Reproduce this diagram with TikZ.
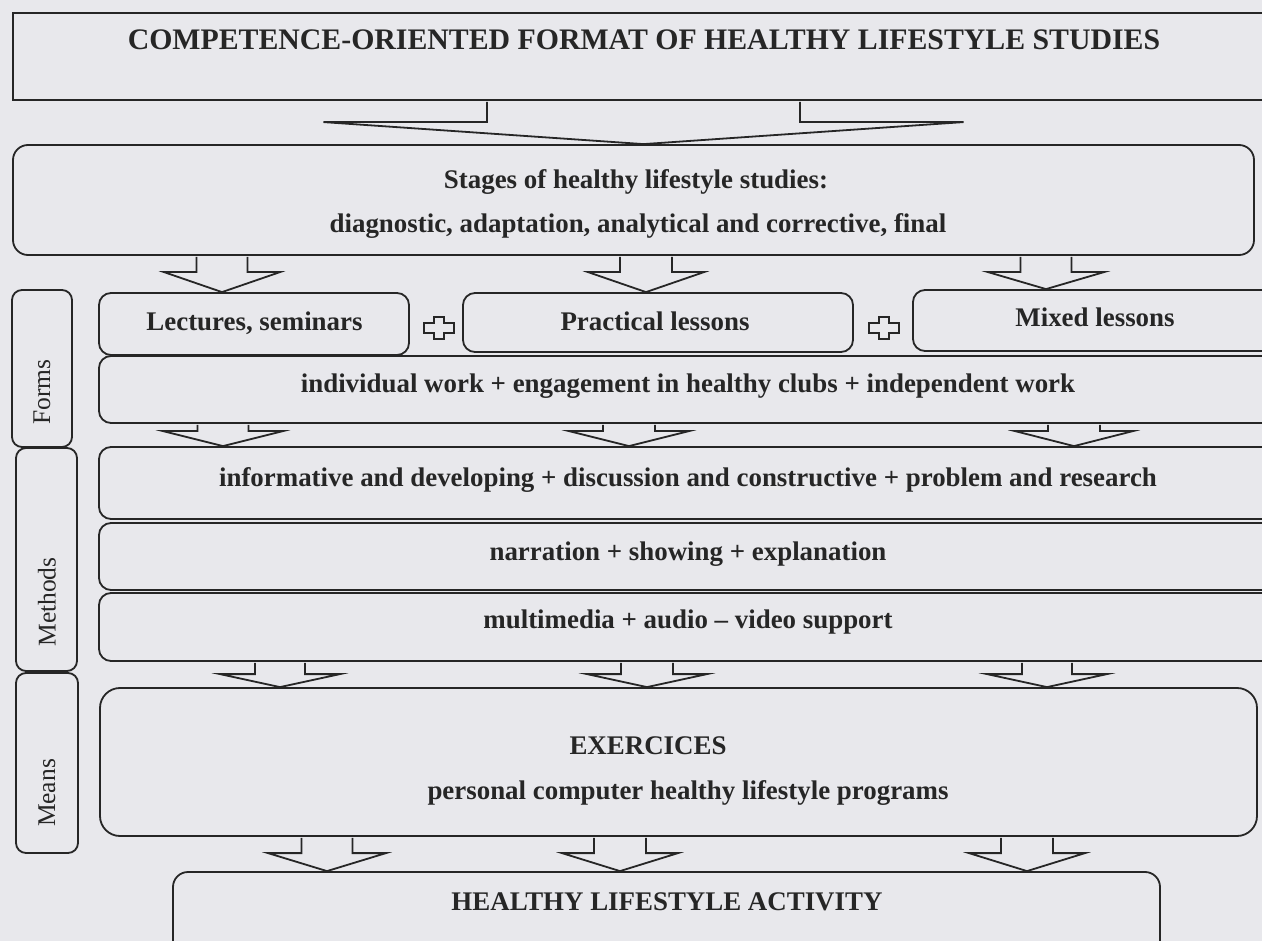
\documentclass[tikz,border=0pt]{standalone}
\usepackage{fontspec}
\setmainfont{Liberation Serif}
\usetikzlibrary{calc}
\definecolor{bg}{HTML}{E8E8EC}
\definecolor{ink}{HTML}{262626}
\newcommand\barr[6]{%
  \draw[barrow] let \p1=(#1.south), \p2=(#2.north) in
   ({(#3-#4)*1pt},{\y1-0.9pt}) -- ({(#3-#4)*1pt},{\y2+#6pt}) -- ({(#3-#5)*1pt},{\y2+#6pt})
   -- ({#3*1pt},\y2) -- ({(#3+#5)*1pt},{\y2+#6pt}) -- ({(#3+#4)*1pt},{\y2+#6pt})
   -- ({(#3+#4)*1pt},{\y1-0.9pt});}
\newcommand\plussign[2]{%
  \draw[barrow] (#1-5,#2-11) -- (#1+5,#2-11) -- (#1+5,#2-5) -- (#1+15,#2-5)
   -- (#1+15,#2+5) -- (#1+5,#2+5) -- (#1+5,#2+11) -- (#1-5,#2+11)
   -- (#1-5,#2+5) -- (#1-15,#2+5) -- (#1-15,#2-5) -- (#1-5,#2-5) -- cycle;}
\begin{document}
\begin{tikzpicture}[x=1pt,y=-1pt,
  box/.style={draw=ink, line width=1.8pt, inner sep=0pt, rounded corners=12pt},
  barrow/.style={draw=ink, fill=bg, line width=1.8pt, line join=miter},
  txt/.style={text=ink, font=\fontsize{26.9}{31}\selectfont\bfseries, inner sep=0pt, anchor=base},
  side/.style={text=ink, font=\fontsize{25.5}{30}\selectfont, inner sep=0pt, rotate=90}]
\useasboundingbox (0,0) rectangle (1262,941);
\clip (0,0) rectangle (1262,941);
\fill[bg] (0,0) rectangle (1262,941);

% boxes
\node[box, rounded corners=0pt, minimum width=1267pt, minimum height=87pt] (top) at (646.5,56.5) {};
\node[box, rounded corners=15pt, minimum width=1241pt, minimum height=110pt] (stages) at (633.5,200) {};
\node[box, minimum width=310pt, minimum height=62pt] (lect) at (254,324) {};
\node[box, minimum width=390pt, minimum height=59pt] (prac) at (658,322.5) {};
\node[box, minimum width=367pt, minimum height=61pt] (mixed) at (1096.5,320.5) {};
\node[box, minimum width=1181pt, minimum height=67pt] (indiv) at (689.5,389.5) {};
\node[box, minimum width=1181pt, minimum height=72pt] (inform) at (689.5,483) {};
\node[box, minimum width=1181pt, minimum height=67pt] (narr) at (689.5,556.5) {};
\node[box, minimum width=1181pt, minimum height=68pt] (multi) at (689.5,627) {};
\node[box, rounded corners=20pt, minimum width=1157pt, minimum height=148pt] (exer) at (678.5,762) {};
\node[box, rounded corners=15pt, minimum width=987pt, minimum height=118pt] (act) at (666.5,931) {};
\node[box, rounded corners=10pt, minimum width=60pt, minimum height=157pt] (forms) at (42,368.5) {};
\node[box, rounded corners=10pt, minimum width=61pt, minimum height=223pt] (methods) at (46.5,559.5) {};
\node[box, rounded corners=10pt, minimum width=62pt, minimum height=180pt] (means) at (47,763) {};

% block arrows
\barr{top}{stages}{643.5}{156.5}{320}{22}
\barr{stages}{lect}{222}{25.5}{58}{20}
\barr{stages}{prac}{646}{26}{58}{20}
\barr{stages}{mixed}{1046}{25.5}{58}{17}
\barr{indiv}{inform}{223}{25.5}{60}{15}
\barr{indiv}{inform}{629}{26}{60}{15}
\barr{indiv}{inform}{1074}{26}{59}{15}
\barr{multi}{exer}{280}{25}{60}{13}
\barr{multi}{exer}{647}{26}{60}{13}
\barr{multi}{exer}{1047}{25}{60}{13}
\barr{exer}{act}{327}{25.5}{59}{18}
\barr{exer}{act}{620}{26}{58}{18}
\barr{exer}{act}{1027}{26}{58}{18}

% plus signs
\plussign{439}{328}
\plussign{884}{328}

% texts
\node[txt, font=\fontsize{29.8}{34}\selectfont\bfseries] (ttop) at (644,50) {COMPETENCE-ORIENTED FORMAT OF HEALTHY LIFESTYLE STUDIES};
\node[txt] (tst1) at (636,189) {Stages of healthy lifestyle studies:};
\node[txt] (tst2) at (638,233) {diagnostic, adaptation, analytical and corrective, final};
\node[txt] (tlect) at (254.5,331) {Lectures, seminars};
\node[txt] (tprac) at (655,331) {Practical lessons};
\node[txt] (tmix) at (1095,327) {Mixed lessons};
\node[txt] (tind) at (688,393) {individual work + engagement in healthy clubs + independent work};
\node[txt] (tinf) at (688,486) {informative and developing + discussion and constructive + problem and research};
\node[txt] (tnar) at (688,560) {narration + showing + explanation};
\node[txt] (tmul) at (688,628) {multimedia + audio -- video support};
\node[txt] (texe) at (648,754) {EXERCICES};
\node[txt] (tpc) at (688,799) {personal computer healthy lifestyle programs};
\node[txt] (tact) at (667,910) {HEALTHY LIFESTYLE ACTIVITY};
\node[side] (lforms) at (42,392) {Forms};
\node[side] (lmeth) at (47,602) {Methods};
\node[side] (lmeans) at (47,793) {Means};
\end{tikzpicture}
\end{document}
